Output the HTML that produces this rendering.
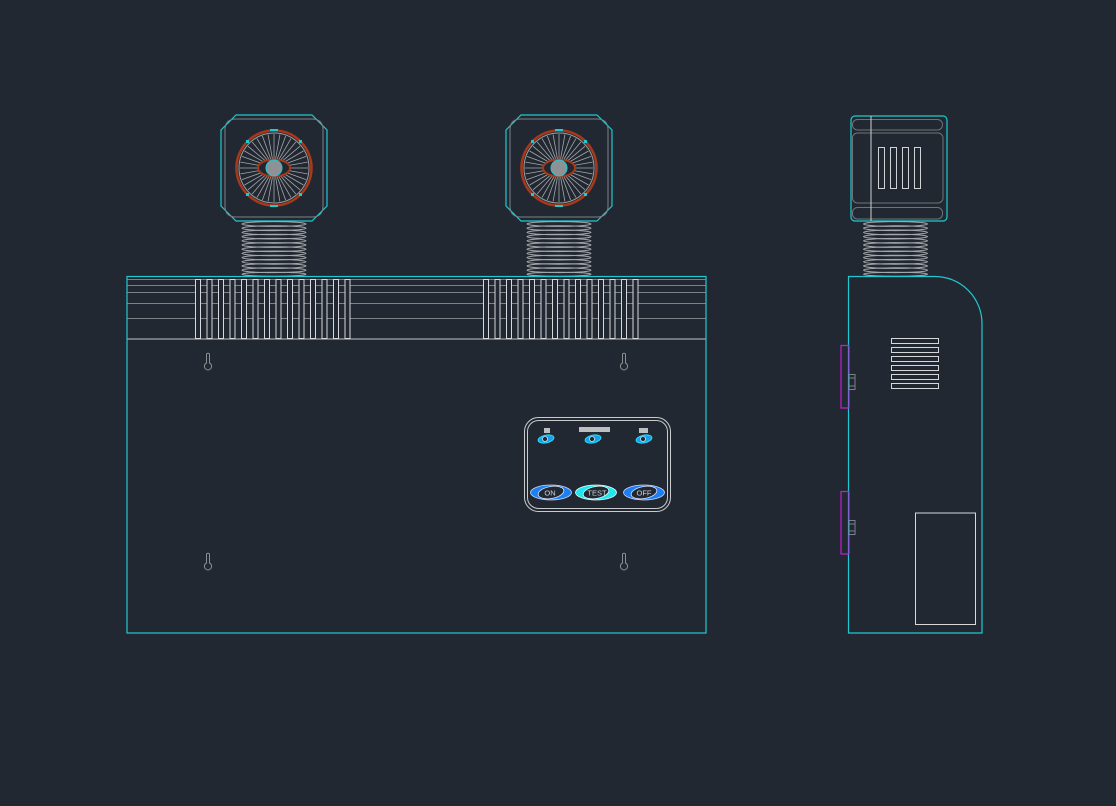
<!DOCTYPE html>
<html><head><meta charset="utf-8"><style>
html,body{margin:0;padding:0;background:#222831;}
svg{display:block;}
</style></head><body>
<svg width="1116" height="806" viewBox="0 0 1116 806" xmlns="http://www.w3.org/2000/svg">
<rect width="1116" height="806" fill="#222831"/>
<defs>
<g id="lamp">
  <polygon points="-38,-53 38,-53 53,-38 53,38 38,53 -38,53 -53,38 -53,-38" fill="none" stroke="#1fc9cf" stroke-width="1.2"/>
  <path d="M-38,-49 H38 Q49,-49 49,-38 V38 Q49,49 38,49 H-38 Q-49,49 -49,38 V-38 Q-49,-49 -38,-49 Z" fill="none" stroke="#7d8186" stroke-width="1"/>
  <circle r="37.5" fill="none" stroke="#a8381a" stroke-width="2.6"/>
  <circle r="35" fill="none" stroke="#9a9ea2" stroke-width="1"/>
  <g stroke="#a4a8ac" stroke-width="0.8">
    <line x1="-34" y1="0" x2="34" y2="0"/>
    <line x1="-34" y1="0" x2="34" y2="0" transform="rotate(10)"/>
    <line x1="-34" y1="0" x2="34" y2="0" transform="rotate(20)"/>
    <line x1="-34" y1="0" x2="34" y2="0" transform="rotate(30)"/>
    <line x1="-34" y1="0" x2="34" y2="0" transform="rotate(40)"/>
    <line x1="-34" y1="0" x2="34" y2="0" transform="rotate(50)"/>
    <line x1="-34" y1="0" x2="34" y2="0" transform="rotate(60)"/>
    <line x1="-34" y1="0" x2="34" y2="0" transform="rotate(70)"/>
    <line x1="-34" y1="0" x2="34" y2="0" transform="rotate(80)"/>
    <line x1="-34" y1="0" x2="34" y2="0" transform="rotate(90)"/>
    <line x1="-34" y1="0" x2="34" y2="0" transform="rotate(100)"/>
    <line x1="-34" y1="0" x2="34" y2="0" transform="rotate(110)"/>
    <line x1="-34" y1="0" x2="34" y2="0" transform="rotate(120)"/>
    <line x1="-34" y1="0" x2="34" y2="0" transform="rotate(130)"/>
    <line x1="-34" y1="0" x2="34" y2="0" transform="rotate(140)"/>
    <line x1="-34" y1="0" x2="34" y2="0" transform="rotate(150)"/>
    <line x1="-34" y1="0" x2="34" y2="0" transform="rotate(160)"/>
    <line x1="-34" y1="0" x2="34" y2="0" transform="rotate(170)"/>
  </g>
  <ellipse rx="16" ry="8.5" fill="#222831" stroke="#a8381a" stroke-width="2"/>
  <circle r="8" fill="#8e9296" stroke="#1fc9cf" stroke-width="1"/>
  <g fill="#1fc9cf">
    <rect x="-4" y="-39" width="8" height="2"/>
    <rect x="-4" y="37" width="8" height="2"/>
    <rect x="-28" y="-28" width="3" height="3"/>
    <rect x="25" y="-28" width="3" height="3"/>
    <rect x="-28" y="25" width="3" height="3"/>
    <rect x="25" y="25" width="3" height="3"/>
  </g>
  <g fill="none" stroke="#a4a8ac" stroke-width="1">
    <ellipse cy="56" rx="32" ry="2.4"/>
    <ellipse cy="60.2" rx="32" ry="2.4"/>
    <ellipse cy="64.4" rx="32" ry="2.4"/>
    <ellipse cy="68.6" rx="32" ry="2.4"/>
    <ellipse cy="72.8" rx="32" ry="2.4"/>
    <ellipse cy="77" rx="32" ry="2.4"/>
    <ellipse cy="81.2" rx="32" ry="2.4"/>
    <ellipse cy="85.4" rx="32" ry="2.4"/>
    <ellipse cy="89.6" rx="32" ry="2.4"/>
    <ellipse cy="93.8" rx="32" ry="2.4"/>
    <ellipse cy="98" rx="32" ry="2.4"/>
    <ellipse cy="102.2" rx="32" ry="2.4"/>
    <ellipse cy="106.2" rx="32" ry="2"/>
  </g>
</g>
<g id="key" fill="none" stroke="#8a8e92" stroke-width="1">
  <path d="M-1.5,-7 Q0,-8.5 1.5,-7 V2 A3.6,3.6 0 1 1 -1.5,2 Z"/>
</g>
</defs>

<!-- lamps -->
<use href="#lamp" x="274" y="168"/>
<use href="#lamp" x="559" y="168"/>

<!-- front body -->
<g stroke="#7d8186" stroke-width="1">
  <line x1="127" y1="279.5" x2="706" y2="279.5"/>
  <line x1="127" y1="285.5" x2="706" y2="285.5"/>
  <line x1="127" y1="292.5" x2="706" y2="292.5"/>
  <line x1="127" y1="303.5" x2="706" y2="303.5"/>
  <line x1="127" y1="318.5" x2="706" y2="318.5"/>
  <line x1="127" y1="339" x2="706" y2="339" stroke="#a0a4a8" stroke-width="1.3"/>
</g>
<g fill="#222831" stroke="#d6d8da" stroke-width="1">
  <rect x="195.5" y="279.5" width="5" height="59"/>
  <rect x="207" y="279.5" width="5" height="59"/>
  <rect x="218.5" y="279.5" width="5" height="59"/>
  <rect x="230" y="279.5" width="5" height="59"/>
  <rect x="241.5" y="279.5" width="5" height="59"/>
  <rect x="253" y="279.5" width="5" height="59"/>
  <rect x="264.5" y="279.5" width="5" height="59"/>
  <rect x="276" y="279.5" width="5" height="59"/>
  <rect x="287.5" y="279.5" width="5" height="59"/>
  <rect x="299" y="279.5" width="5" height="59"/>
  <rect x="310.5" y="279.5" width="5" height="59"/>
  <rect x="322" y="279.5" width="5" height="59"/>
  <rect x="333.5" y="279.5" width="5" height="59"/>
  <rect x="345" y="279.5" width="5" height="59"/>

  <rect x="483.5" y="279.5" width="5" height="59"/>
  <rect x="495" y="279.5" width="5" height="59"/>
  <rect x="506.5" y="279.5" width="5" height="59"/>
  <rect x="518" y="279.5" width="5" height="59"/>
  <rect x="529.5" y="279.5" width="5" height="59"/>
  <rect x="541" y="279.5" width="5" height="59"/>
  <rect x="552.5" y="279.5" width="5" height="59"/>
  <rect x="564" y="279.5" width="5" height="59"/>
  <rect x="575.5" y="279.5" width="5" height="59"/>
  <rect x="587" y="279.5" width="5" height="59"/>
  <rect x="598.5" y="279.5" width="5" height="59"/>
  <rect x="610" y="279.5" width="5" height="59"/>
  <rect x="621.5" y="279.5" width="5" height="59"/>
  <rect x="633" y="279.5" width="5" height="59"/>
</g>
<rect x="127" y="276.5" width="579" height="356.5" fill="none" stroke="#1fc9cf" stroke-width="1.2"/>

<use href="#key" x="208" y="361"/>
<use href="#key" x="624" y="361"/>
<use href="#key" x="208" y="561"/>
<use href="#key" x="624" y="561"/>

<!-- control panel -->
<rect x="524.5" y="417.5" width="146" height="94" rx="14" fill="none" stroke="#c8cacc" stroke-width="1"/>
<rect x="527.5" y="420.5" width="140" height="88" rx="11" fill="none" stroke="#c8cacc" stroke-width="1"/>
<g fill="#bcbec0">
  <rect x="544" y="428" width="6" height="5"/>
  <rect x="579" y="427" width="31" height="5"/>
  <rect x="639" y="428" width="9" height="5"/>
</g>
<g>
  <ellipse cx="546" cy="439" rx="8" ry="3.8" fill="#1a9fe8" stroke="#1fe0ff" stroke-width="1" transform="rotate(-12 546 439)"/>
  <circle cx="545" cy="439" r="2.5" fill="#222831" stroke="#fff" stroke-width="0.6"/>
  <ellipse cx="593" cy="439" rx="8" ry="3.8" fill="#1a9fe8" stroke="#1fe0ff" stroke-width="1" transform="rotate(-12 593 439)"/>
  <circle cx="592" cy="439" r="2.5" fill="#222831" stroke="#fff" stroke-width="0.6"/>
  <ellipse cx="644" cy="439" rx="8" ry="3.8" fill="#1a9fe8" stroke="#1fe0ff" stroke-width="1" transform="rotate(-12 644 439)"/>
  <circle cx="643" cy="439" r="2.5" fill="#222831" stroke="#fff" stroke-width="0.6"/>
</g>
<g font-family="Liberation Sans, sans-serif" font-size="7.5" fill="#d0d2d4" text-anchor="middle">
  <ellipse cx="551" cy="492.5" rx="20.5" ry="7.5" fill="#1e7ff0" stroke="#c8d8ff" stroke-width="0.8"/>
  <ellipse cx="551" cy="492.5" rx="13" ry="6" fill="#222831" stroke="#e0e8ff" stroke-width="0.8" transform="rotate(-10 551 492.5)"/>
  <text x="550" y="495.5">ON</text>
  <ellipse cx="596" cy="492.5" rx="20.5" ry="7.5" fill="#1fe6f0" stroke="#e8ffff" stroke-width="0.8"/>
  <ellipse cx="596" cy="492.5" rx="13" ry="6" fill="#222831" stroke="#e0ffff" stroke-width="0.8" transform="rotate(-10 596 492.5)"/>
  <text x="597" y="495.5">TEST</text>
  <ellipse cx="644" cy="492.5" rx="20.5" ry="7.5" fill="#1e7ff0" stroke="#c8d8ff" stroke-width="0.8"/>
  <ellipse cx="644" cy="492.5" rx="13" ry="6" fill="#222831" stroke="#e0e8ff" stroke-width="0.8" transform="rotate(-10 644 492.5)"/>
  <text x="644" y="495.5">OFF</text>
</g>

<!-- side view head -->
<rect x="851" y="116" width="96" height="105" rx="4" fill="none" stroke="#1fc9cf" stroke-width="1.2"/>
<g fill="none" stroke="#6f7378" stroke-width="1">
  <rect x="852.5" y="119.5" width="90" height="10.5" rx="5"/>
  <rect x="852.5" y="133" width="90.5" height="70" rx="5"/>
  <rect x="852.5" y="207.5" width="90" height="11.5" rx="5"/>
</g>
<line x1="871" y1="116" x2="871" y2="221" stroke="#d0d2d4" stroke-width="1"/>
<g fill="none" stroke="#d0d2d4" stroke-width="1">
  <rect x="878.5" y="147.5" width="6" height="41"/>
  <rect x="890.5" y="147.5" width="6" height="41"/>
  <rect x="902.5" y="147.5" width="6" height="41"/>
  <rect x="914.5" y="147.5" width="6" height="41"/>
</g>
<g fill="none" stroke="#a4a8ac" stroke-width="1">
  <ellipse cx="895.5" cy="224" rx="32" ry="2.4"/>
  <ellipse cx="895.5" cy="228.2" rx="32" ry="2.4"/>
  <ellipse cx="895.5" cy="232.4" rx="32" ry="2.4"/>
  <ellipse cx="895.5" cy="236.6" rx="32" ry="2.4"/>
  <ellipse cx="895.5" cy="240.8" rx="32" ry="2.4"/>
  <ellipse cx="895.5" cy="245" rx="32" ry="2.4"/>
  <ellipse cx="895.5" cy="249.2" rx="32" ry="2.4"/>
  <ellipse cx="895.5" cy="253.4" rx="32" ry="2.4"/>
  <ellipse cx="895.5" cy="257.6" rx="32" ry="2.4"/>
  <ellipse cx="895.5" cy="261.8" rx="32" ry="2.4"/>
  <ellipse cx="895.5" cy="266" rx="32" ry="2.4"/>
  <ellipse cx="895.5" cy="270.2" rx="32" ry="2.4"/>
  <ellipse cx="895.5" cy="274.2" rx="32" ry="2"/>
</g>

<!-- side body -->
<path d="M848.5,633 V276.5 H935 A47,47 0 0 1 982,323.5 V633 Z" fill="none" stroke="#1fc9cf" stroke-width="1.2"/>
<g fill="none" stroke="#d6d8da" stroke-width="1">
  <rect x="891.5" y="338.5" width="47" height="5"/>
  <rect x="891.5" y="347.5" width="47" height="5"/>
  <rect x="891.5" y="356.5" width="47" height="5"/>
  <rect x="891.5" y="365.5" width="47" height="5"/>
  <rect x="891.5" y="374.5" width="47" height="5"/>
  <rect x="891.5" y="383.5" width="47" height="5"/>
  <rect x="915.5" y="513" width="60" height="111.5"/>
</g>
<g fill="none" stroke="#c020d0" stroke-width="1.2">
  <rect x="841" y="345.5" width="8" height="62.5"/>
  <rect x="841" y="491.5" width="8" height="62.5"/>
</g>
<g fill="none" stroke="#7d8186" stroke-width="1">
  <rect x="849" y="374.5" width="6" height="15"/>
  <line x1="849" y1="378" x2="855" y2="378"/>
  <line x1="849" y1="386" x2="855" y2="386"/>
  <rect x="849" y="520.5" width="6" height="14"/>
  <line x1="849" y1="524" x2="855" y2="524"/>
  <line x1="849" y1="531" x2="855" y2="531"/>
</g>
</svg>
</body></html>
